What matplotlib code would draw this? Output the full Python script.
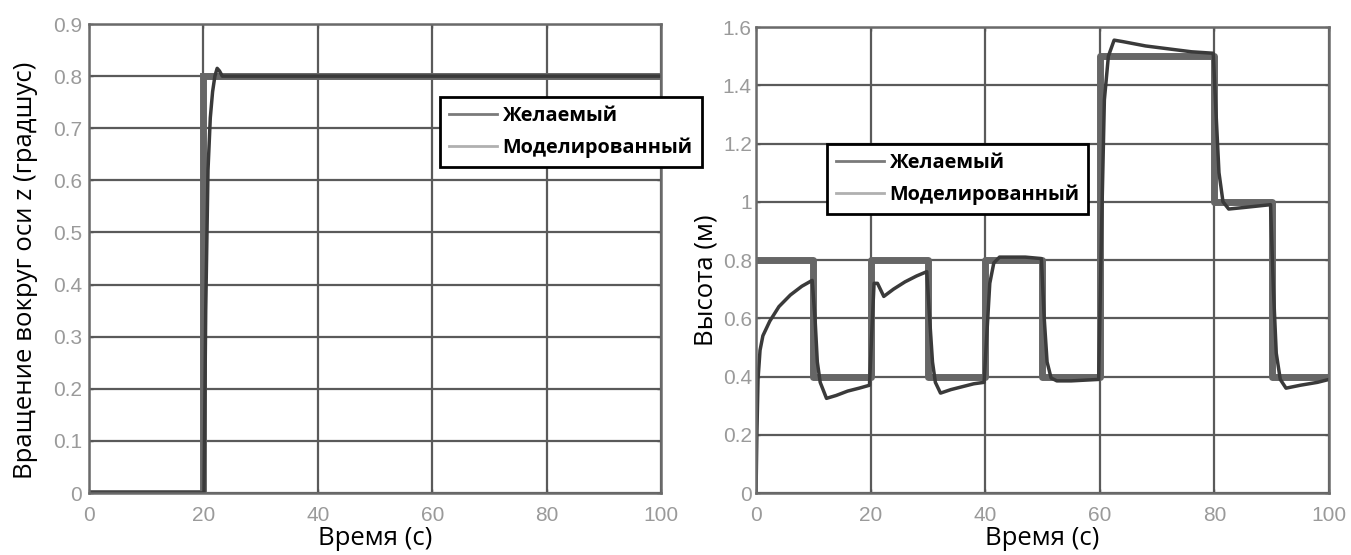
import numpy as np
import matplotlib
matplotlib.use("Agg")
import matplotlib.pyplot as plt
from matplotlib.lines import Line2D

# левый график: вращение вокруг оси z
t_des_l = [0, 20, 20, 100]
y_des_l = [0, 0, 0.8, 0.8]
t_sim_l = [0, 20.1, 20.4, 20.8, 21.2, 21.6, 22.0, 22.4, 22.8, 23.3, 24, 100]
y_sim_l = [0, 0, 0.35, 0.62, 0.72, 0.77, 0.80, 0.815, 0.81, 0.80, 0.80, 0.80]

# правый график: высота
t_des_r = [0, 10, 20, 30, 40, 50, 60, 70, 80, 90, 100]
y_des_r = [0.8, 0.4, 0.8, 0.4, 0.8, 0.4, 1.5, 1.5, 1.0, 0.4, 0.4]
t_sim_r = [0, 0.15, 0.35, 0.7, 1.2, 2.4, 4, 6, 8, 9.8, 10.3, 10.7, 11.2, 12.3, 14, 16, 18, 19.8,
           20.2, 20.6, 21.2, 22.3, 24, 26, 28, 29.8, 30.3, 30.8, 31.3, 32.2, 34, 36, 38, 39.8,
           40.3, 40.8, 41.5, 42.5, 47, 49.8, 50.3, 50.8, 51.5, 52.5, 55, 59.8,
           60.3, 60.8, 61.5, 62.5, 64, 68, 72, 76, 79.8, 80.3, 80.8, 81.5, 82.5, 85, 89.8,
           90.3, 90.8, 91.5, 92.5, 95, 98, 100]
y_sim_r = [0, 0.2, 0.39, 0.49, 0.54, 0.59, 0.64, 0.68, 0.71, 0.73, 0.6, 0.45, 0.38, 0.325, 0.335, 0.35, 0.36, 0.37,
           0.55, 0.72, 0.72, 0.675, 0.7, 0.725, 0.745, 0.76, 0.6, 0.45, 0.38, 0.343, 0.355, 0.365, 0.375, 0.38,
           0.55, 0.72, 0.79, 0.81, 0.81, 0.805, 0.6, 0.45, 0.395, 0.385, 0.385, 0.39,
           0.9, 1.35, 1.5, 1.555, 1.55, 1.535, 1.525, 1.515, 1.51, 1.3, 1.1, 1.0, 0.975, 0.98, 0.99,
           0.7, 0.48, 0.39, 0.36, 0.37, 0.38, 0.39]

x_ticks = [0, 20, 40, 60, 80, 100]
x_labels = ["0", "20", "40", "60", "80", "100"]
y_ticks_l = [0, 0.1, 0.2, 0.3, 0.4, 0.5, 0.6, 0.7, 0.8, 0.9]
y_labels_l = ["0", "0.1", "0.2", "0.3", "0.4", "0.5", "0.6", "0.7", "0.8", "0.9"]
y_ticks_r = [0, 0.2, 0.4, 0.6, 0.8, 1.0, 1.2, 1.4, 1.6]
y_labels_r = ["0", "0.2", "0.4", "0.6", "0.8", "1", "1.2", "1.4", "1.6"]

leg_names = ["Желаемый", "Моделированный"]

fig = plt.figure(figsize=(13.51, 5.55), dpi=100)
ax1 = fig.add_axes([0.0659, 0.1117, 0.4234, 0.845])
ax2 = fig.add_axes([0.5596, 0.1117, 0.4241, 0.8396])


def style(ax, yt, yl, ylim, ypad):
    ax.set_xlim(0, 100)
    ax.set_ylim(*ylim)
    ax.set_xticks(x_ticks)
    ax.set_xticklabels(x_labels)
    ax.set_yticks(yt)
    ax.set_yticklabels(yl)
    ax.grid(True, color="#5a5a5a", linewidth=1.6)
    ax.set_axisbelow(True)
    for s in ax.spines.values():
        s.set_color("#6a6a6a")
        s.set_linewidth(1.8)
    ax.tick_params(direction="in", length=3, width=1, colors="#555555",
                   labelcolor="#9a9a9a", labelsize=15, top=True, right=True)
    ax.tick_params(axis="x", pad=9)
    ax.tick_params(axis="y", pad=ypad)
    for lab in ax.get_xticklabels() + ax.get_yticklabels():
        lab.set_family("Liberation Sans")


ax1.plot(t_des_l, y_des_l, color="#666666", linewidth=5, solid_joinstyle="miter")
ax1.plot(t_sim_l, y_sim_l, color="#3a3a3a", linewidth=2.5)
style(ax1, y_ticks_l, y_labels_l, (0, 0.9), 5)

ax2.plot(t_des_r, y_des_r, color="#666666", linewidth=5, drawstyle="steps-post")
ax2.plot(t_sim_r, y_sim_r, color="#3a3a3a", linewidth=2.5)
style(ax2, y_ticks_r, y_labels_r, (0, 1.6), 3)

lab_font = dict(family="Open Sans", fontsize=18.5, color="black")
ax1.set_xlabel("Время (с)", **lab_font)
ax1.set_ylabel("Вращение вокруг оси z (градшус)", **lab_font)
ax2.set_xlabel("Время (с)", **lab_font)
ax2.set_ylabel("Высота (м)", **lab_font)
ax1.xaxis.set_label_coords(0.5, -0.07)
ax2.xaxis.set_label_coords(0.5, -0.07)
ax1.yaxis.set_label_coords(-0.09, 0.475)
ax2.yaxis.set_label_coords(-0.066, 0.457)

handles = [Line2D([], [], color="#7a7a7a", linewidth=2),
           Line2D([], [], color="#b0b0b0", linewidth=2)]
for ax, anchor in [(ax1, (0.3257, 0.8252)), (ax2, (0.6121, 0.7405))]:
    leg = ax.legend(handles, leg_names, loc="upper left", bbox_to_anchor=anchor,
                    bbox_transform=fig.transFigure, borderaxespad=0, fancybox=False,
                    edgecolor="black", framealpha=1, handlelength=2.4, handletextpad=0.3,
                    borderpad=0.45, labelspacing=0.6,
                    prop=dict(family="Open Sans", weight="bold", size=14.3))
    leg.get_frame().set_linewidth(2)
    leg.set_zorder(5)

fig.savefig("out.png", dpi=100)
